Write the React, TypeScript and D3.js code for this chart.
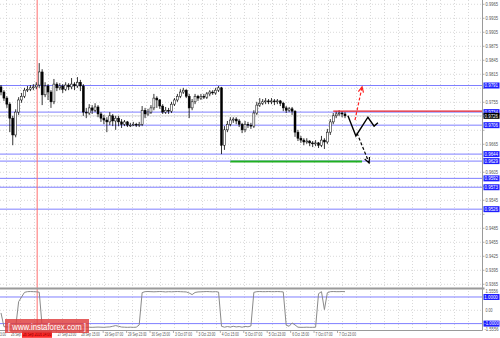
import React from 'react';
import * as d3 from 'd3';

const priceTicks = [0.9965, 0.9935, 0.9905, 0.9875, 0.9845, 0.9815, 0.9785, 0.9755, 0.9725, 0.9695, 0.9665, 0.9635, 0.9605, 0.9575, 0.9545, 0.9515, 0.9485, 0.9455, 0.9425, 0.9395, 0.9365];
const timeLabels = ['23 Sep 23:00', '26 Sep 15:00', '27 Sep 07:00', '27 Sep 23:00', '28 Sep 15:00', '29 Sep 07:00', '29 Sep 23:00', '30 Sep 15:00', '3 Oct 07:00', '3 Oct 23:00', '4 Oct 15:00', '5 Oct 07:00', '5 Oct 23:00', '6 Oct 15:00', '7 Oct 07:00', '7 Oct 23:00'];

const firstOpen = 0.9788;
const closes = [
  0.9777, 0.9764, 0.9751, 0.9721, 0.9685, 0.9734, 0.9760, 0.9768, 0.9781, 0.9783,
  0.9786, 0.9788, 0.9792, 0.9820, 0.9771, 0.9790, 0.9777, 0.9756, 0.9794, 0.9786,
  0.9790, 0.9783, 0.9792, 0.9788, 0.9794, 0.9790, 0.9798, 0.9790, 0.9734, 0.9732,
  0.9743, 0.9738, 0.9745, 0.9730, 0.9721, 0.9717, 0.9713, 0.9726, 0.9715, 0.9721,
  0.9713, 0.9708, 0.9713, 0.9706, 0.9706, 0.9708, 0.9706, 0.9708, 0.9738, 0.9730,
  0.9734, 0.9743, 0.9764, 0.9760, 0.9747, 0.9734, 0.9738, 0.9736, 0.9751, 0.9760,
  0.9768, 0.9777, 0.9781, 0.9768, 0.9743, 0.9756, 0.9768, 0.9764, 0.9768, 0.9766,
  0.9773, 0.9777, 0.9775, 0.9781, 0.9786, 0.9663, 0.9696, 0.9708, 0.9717, 0.9719,
  0.9715, 0.9708, 0.9696, 0.9708, 0.9706, 0.9704, 0.9732, 0.9749, 0.9753, 0.9756,
  0.9758, 0.9756, 0.9758, 0.9756, 0.9758, 0.9753, 0.9743, 0.9738, 0.9741, 0.9736,
  0.9691, 0.9678, 0.9674, 0.9670, 0.9672, 0.9668, 0.9666, 0.9668, 0.9663, 0.9674,
  0.9670, 0.9691, 0.9713, 0.9726, 0.9730, 0.9732, 0.9730, 0.9726,
];
const highs = [
  0.9792, 0.9781, 0.9768, 0.9755, 0.9726, 0.9740, 0.9766, 0.9775, 0.9786, 0.9790,
  0.9792, 0.9794, 0.9798, 0.9839, 0.9826, 0.9798, 0.9794, 0.9781, 0.9805, 0.9798,
  0.9796, 0.9794, 0.9798, 0.9796, 0.9807, 0.9798, 0.9809, 0.9803, 0.9794, 0.9743,
  0.9751, 0.9749, 0.9753, 0.9749, 0.9734, 0.9728, 0.9723, 0.9734, 0.9730, 0.9726,
  0.9726, 0.9719, 0.9717, 0.9715, 0.9711, 0.9713, 0.9711, 0.9713, 0.9747, 0.9743,
  0.9741, 0.9749, 0.9773, 0.9768, 0.9762, 0.9751, 0.9745, 0.9743, 0.9756, 0.9764,
  0.9773, 0.9783, 0.9786, 0.9783, 0.9773, 0.9762, 0.9773, 0.9771, 0.9773, 0.9773,
  0.9777, 0.9781, 0.9781, 0.9786, 0.9790, 0.9788, 0.9704, 0.9715, 0.9723, 0.9723,
  0.9723, 0.9719, 0.9711, 0.9715, 0.9713, 0.9711, 0.9738, 0.9756, 0.9764, 0.9762,
  0.9764, 0.9762, 0.9764, 0.9762, 0.9762, 0.9760, 0.9756, 0.9747, 0.9745, 0.9745,
  0.9738, 0.9696, 0.9683, 0.9678, 0.9678, 0.9674, 0.9672, 0.9674, 0.9670, 0.9683,
  0.9678, 0.9698, 0.9719, 0.9732, 0.9736, 0.9738, 0.9736, 0.9734,
];
const lows = [
  0.9770, 0.9758, 0.9743, 0.9691, 0.9663, 0.9680, 0.9728, 0.9754, 0.9764, 0.9777,
  0.9779, 0.9781, 0.9783, 0.9786, 0.9749, 0.9766, 0.9760, 0.9743, 0.9751, 0.9779,
  0.9781, 0.9775, 0.9779, 0.9781, 0.9783, 0.9781, 0.9786, 0.9779, 0.9726, 0.9721,
  0.9728, 0.9730, 0.9734, 0.9723, 0.9713, 0.9708, 0.9691, 0.9706, 0.9704, 0.9696,
  0.9704, 0.9700, 0.9704, 0.9702, 0.9702, 0.9704, 0.9702, 0.9702, 0.9704, 0.9721,
  0.9726, 0.9730, 0.9738, 0.9743, 0.9741, 0.9730, 0.9730, 0.9730, 0.9732, 0.9747,
  0.9756, 0.9764, 0.9773, 0.9764, 0.9721, 0.9738, 0.9751, 0.9758, 0.9760, 0.9762,
  0.9762, 0.9768, 0.9771, 0.9771, 0.9777, 0.9644, 0.9653, 0.9691, 0.9704, 0.9711,
  0.9708, 0.9702, 0.9689, 0.9691, 0.9700, 0.9698, 0.9700, 0.9728, 0.9745, 0.9749,
  0.9751, 0.9751, 0.9751, 0.9749, 0.9751, 0.9747, 0.9736, 0.9732, 0.9734, 0.9728,
  0.9681, 0.9672, 0.9668, 0.9663, 0.9666, 0.9661, 0.9659, 0.9661, 0.9657, 0.9659,
  0.9655, 0.9666, 0.9685, 0.9708, 0.9721, 0.9726, 0.9723, 0.9721,
];

const indicator = [
  -0.20, -1.23, -1.25, -1.26, -1.24, -1.26, 0.65, 1.00, 1.35, 1.40,
  1.41, 1.40, 1.39, 1.36, -1.22, -1.27, -1.28, -1.27, -1.28, -1.27,
  -1.26, -1.28, -1.27, -1.28, -1.26, -1.27, -1.28, -1.27, -1.26, -1.28,
  -1.27, -1.28, -1.27, -1.26, -1.27, -1.28, -1.26, -1.25, -1.20, -1.15,
  -1.20, -1.26, -1.27, -1.28, -1.27, -1.28, -1.27, -1.10, 1.33, 1.40,
  1.41, 1.40, 1.39, 1.40, 1.41, 1.40, 1.38, 1.40, 1.39, 1.40,
  1.41, 1.40, 1.39, 1.38, 1.30, 1.18, 1.34, 1.38, 1.39, 1.40,
  1.41, 1.40, 1.39, 1.40, 1.37, -1.20, -1.27, -1.22, -1.26, -1.20,
  -1.25, -1.22, -1.27, -1.21, -1.24, -1.18, 1.35, 1.40, 1.41, 1.40,
  1.40, 1.41, 1.40, 1.40, 1.41, 1.40, 1.38, -1.12, -1.20, -0.95,
  -1.10, -1.27, -1.28, -1.28, -1.27, -1.28, -1.28, -1.27, 1.25, 1.40,
  0.05, 1.32, 1.40, 1.41, 1.40, 1.40, 1.41, 1.40,
];
const indicatorLabels = ['1.5556', '0.00', '-1.5556'];
const indicatorMax = 1.5556;
const indicatorLevels = [1.0, -1.0];

const blueLevels = [0.9791, 0.9734, 0.9706, 0.9644, 0.9629, 0.9592, 0.9573, 0.9526];
const currentPrice = 0.9726;
const resistance = { price: 0.9736, from: 113 };
const support = { price: 0.9628, from: 78, to: 122.8 };
const forecastSolid: [number, number][] = [[118, 0.9726], [120.7, 0.9683], [124.8, 0.9723], [126.9, 0.9704], [128.2, 0.9711]];
const forecastDown: [number, number][] = [[121.1, 0.9689], [125.2, 0.9625]];
const forecastUp: [number, number][] = [[120.4, 0.9717], [122.8, 0.9788]];
const cursorBar = 12.3;
const cursorLabel = '26 Sep 2016 14:00';

const W = 500;
const H = 338;
const AXIS_X = 482.5;
const MAIN_BOTTOM = 288;
const BOTTOM = 330.5;
const FONT = 'Liberation Sans, Arial, sans-serif';

function arrowHead(p0: [number, number], p1: [number, number], len = 6, ang = 0.45) {
  const a = Math.atan2(p1[1] - p0[1], p1[0] - p0[0]);
  const l: [number, number] = [p1[0] - len * Math.cos(a - ang), p1[1] - len * Math.sin(a - ang)];
  const r: [number, number] = [p1[0] - len * Math.cos(a + ang), p1[1] - len * Math.sin(a + ang)];
  return `M${l[0]},${l[1]}L${p1[0]},${p1[1]}L${r[0]},${r[1]}`;
}

export default function App() {
  const x = d3.scaleLinear().domain([0, closes.length - 1]).range([1, 345]);
  const y = d3.scaleLinear().domain([priceTicks[0], priceTicks[priceTicks.length - 1]]).range([4.3, 284.3]);
  const yi = d3.scaleLinear().domain([indicatorMax, -indicatorMax]).range([289.6, 331]);
  const xt = d3.scaleLinear().domain([0, timeLabels.length - 1]).range([-14, 337.5]);

  const opens = closes.map((c, i) => (i === 0 ? firstOpen : closes[i - 1]));
  const indLine = d3.line<number>().x((_, i) => x(i)).y((d) => yi(d))(indicator) || '';
  const lineP = d3.line<[number, number]>().x((d) => x(d[0])).y((d) => y(d[1]));

  const vGrid = d3.range(6.5, AXIS_X, 14);
  const downPts: [number, number][] = forecastDown.map((d) => [x(d[0]), y(d[1])]);
  const upPts: [number, number][] = forecastUp.map((d) => [x(d[0]), y(d[1])]);

  const boxYs = [...blueLevels, currentPrice].map((p) => y(p));
  const visibleTicks = priceTicks.filter((p) => boxYs.every((by) => Math.abs(by - y(p)) > 5.2));
  const cursorX0 = 22;
  const cursorX1 = 52;
  const visibleTimes = timeLabels
    .map((t, k) => ({ t, k, px: xt(k) }))
    .filter((d) => !(d.px + 1.5 >= cursorX0 - 1 && d.px + 1.5 < cursorX1));

  const box = (price: number, fill: string, key: string) => {
    const cy = y(price);
    return (
      <g key={key}>
        <rect x={483.5} y={cy - 3} width={16} height={6} fill={fill} />
        <text x={484.5} y={cy + 1.7} fontSize={4.6} fill="#fff" fontFamily={FONT} textLength={13.5} lengthAdjust="spacingAndGlyphs">{price.toFixed(4)}</text>
      </g>
    );
  };

  return (
    <svg width={W} height={H} style={{ position: 'absolute', left: 0, top: 0, background: '#fff' }}>
      <rect x={0} y={0} width={W} height={H} fill="#fff" />
      <g stroke="#c8c8c8" strokeWidth={0.7} strokeDasharray="1,2">
        {priceTicks.map((p) => (
          <line key={'h' + p} x1={0} x2={AXIS_X} y1={y(p)} y2={y(p)} />
        ))}
        <line x1={0} x2={AXIS_X} y1={yi(0)} y2={yi(0)} />
        {vGrid.map((gx) => (
          <line key={'v' + gx} x1={gx} x2={gx} y1={0} y2={BOTTOM} />
        ))}
      </g>
      <g stroke="#7f7fff" strokeWidth={1}>
        {blueLevels.map((p) => (
          <line key={'b' + p} x1={0} x2={AXIS_X} y1={y(p)} y2={y(p)} />
        ))}
        {indicatorLevels.map((v) => (
          <line key={'il' + v} x1={0} x2={AXIS_X} y1={yi(v)} y2={yi(v)} />
        ))}
      </g>
      <line x1={0} x2={AXIS_X} y1={y(currentPrice)} y2={y(currentPrice)} stroke="#d0d0d0" strokeWidth={0.8} />
      <line x1={x(cursorBar)} x2={x(cursorBar)} y1={0} y2={BOTTOM} stroke="#ff7070" strokeWidth={1} />
      <g>
        {closes.map((c, i) => {
          const o = opens[i];
          const cx = x(i);
          const top = y(Math.max(o, c));
          const bot = y(Math.min(o, c));
          const bull = c >= o;
          return (
            <g key={'c' + i}>
              <line x1={cx} x2={cx} y1={y(highs[i])} y2={y(lows[i])} stroke="#000" strokeWidth={0.8} />
              <rect x={cx - 1} y={top} width={2} height={Math.max(0.8, bot - top)} fill={bull ? '#fff' : '#000'} stroke="#000" strokeWidth={0.5} />
            </g>
          );
        })}
      </g>
      <line x1={x(resistance.from)} x2={AXIS_X} y1={y(resistance.price)} y2={y(resistance.price)} stroke="#e8202a" strokeWidth={1.4} />
      <line x1={x(support.from)} x2={x(support.to)} y1={y(support.price)} y2={y(support.price)} stroke="#20b020" strokeWidth={2} />
      <path d={lineP(forecastSolid) || ''} fill="none" stroke="#000" strokeWidth={1.4} />
      <path d={lineP(forecastDown) || ''} fill="none" stroke="#000" strokeWidth={1.2} strokeDasharray="3,2" />
      <path d={arrowHead(downPts[0], downPts[1])} fill="none" stroke="#000" strokeWidth={1.2} />
      <path d={lineP(forecastUp) || ''} fill="none" stroke="#ff2020" strokeWidth={1.2} strokeDasharray="3,2" />
      <path d={arrowHead(upPts[0], upPts[1])} fill="none" stroke="#ff2020" strokeWidth={1.2} />
      <path d={indLine} fill="none" stroke="#8a8a8a" strokeWidth={1} />
      <line x1={0} x2={AXIS_X + 2} y1={MAIN_BOTTOM + 0.5} y2={MAIN_BOTTOM + 0.5} stroke="#9a9a9a" strokeWidth={2} />
      <line x1={0} x2={AXIS_X} y1={BOTTOM} y2={BOTTOM} stroke="#9a9a9a" strokeWidth={1} />
      <line x1={AXIS_X} x2={AXIS_X} y1={0} y2={BOTTOM} stroke="#9a9a9a" strokeWidth={1} />
      <g fontSize={4.6} fill="#555" fontFamily={FONT}>
        {priceTicks.map((p) => (
          <line key={'tk' + p} x1={AXIS_X} x2={AXIS_X + 2} y1={y(p)} y2={y(p)} stroke="#9a9a9a" strokeWidth={0.8} />
        ))}
        {visibleTicks.map((p) => (
          <text key={'t' + p} x={485.5} y={y(p) + 1.7} textLength={12.5} lengthAdjust="spacingAndGlyphs">{p.toFixed(4)}</text>
        ))}
        <text x={485.5} y={yi(indicatorMax) + 3.2} textLength={12.5} lengthAdjust="spacingAndGlyphs">{indicatorLabels[0]}</text>
        <text x={485.5} y={yi(0) + 1.7} textLength={7} lengthAdjust="spacingAndGlyphs">{indicatorLabels[1]}</text>
        <text x={484.5} y={yi(-indicatorMax) - 0.4} textLength={14} lengthAdjust="spacingAndGlyphs">{indicatorLabels[2]}</text>
      </g>
      {blueLevels.map((p) => box(p, '#1e1eff', 'bx' + p))}
      {box(currentPrice, '#000', 'cur')}
      {indicatorLevels.map((v) => (
        <g key={'ib' + v}>
          <rect x={483.5} y={yi(v) - 3} width={16} height={6} fill="#1e1eff" />
          <text x={484.3} y={yi(v) + 1.7} fontSize={4.6} fill="#fff" fontFamily={FONT} textLength={v < 0 ? 14.5 : 13.5} lengthAdjust="spacingAndGlyphs">{v.toFixed(4)}</text>
        </g>
      ))}
      <g fontSize={4.6} fill="#555" fontFamily={FONT}>
        {timeLabels.map((_, k) => (
          <line key={'tt' + k} x1={xt(k)} x2={xt(k)} y1={BOTTOM} y2={BOTTOM + 2.5} stroke="#9a9a9a" strokeWidth={0.8} />
        ))}
        {visibleTimes.map((d) => (
          <text key={'tl' + d.k} x={d.px + 1.5} y={336.3} textLength={d.t.length > 11 ? 18.5 : 17} lengthAdjust="spacingAndGlyphs">{d.t}</text>
        ))}
      </g>
      <rect x={cursorX0} y={331.3} width={cursorX1 - cursorX0} height={6.5} fill="#ff2a2a" />
      <text x={23} y={336.3} fontSize={4.6} fill="#8a0000" fontFamily={FONT} textLength={28} lengthAdjust="spacingAndGlyphs">{cursorLabel}</text>
      <rect x={5} y={319} width={84} height={14} fill="rgba(222,60,60,0.82)" />
      <text x={8} y={329.5} fontSize={9} fill="#fff" fontFamily={FONT} textLength={78} lengthAdjust="spacingAndGlyphs">[ www.instaforex.com ]</text>
    </svg>
  );
}
